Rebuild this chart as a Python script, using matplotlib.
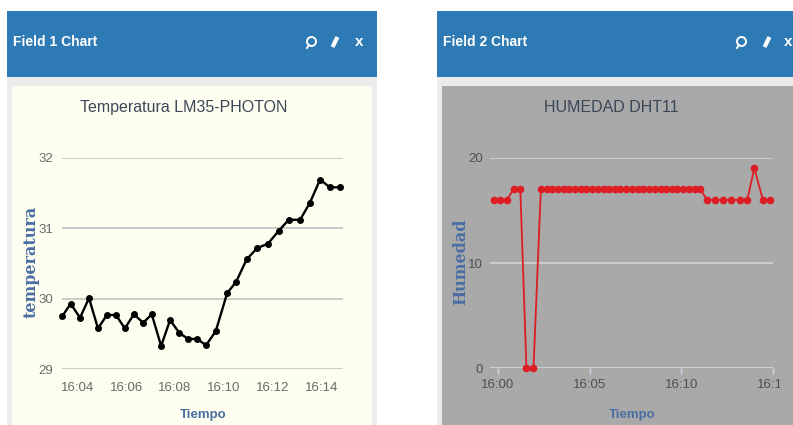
import matplotlib
matplotlib.use('Agg')
import matplotlib.pyplot as plt
import matplotlib.dates as mdates
import pandas as pd
from matplotlib.patches import Rectangle
from matplotlib.lines import Line2D
from matplotlib.transforms import Bbox, TransformedBbox

# Field 1: temperature samples (LM35 on Photon)
temp_times = ["16:03:23", "16:03:44", "16:04:07", "16:04:29", "16:04:51", "16:05:13",
              "16:05:35", "16:05:57", "16:06:19", "16:06:42", "16:07:03", "16:07:26",
              "16:07:48", "16:08:10", "16:08:32", "16:08:55", "16:09:16", "16:09:40",
              "16:10:08", "16:10:30", "16:10:56", "16:11:22", "16:11:48", "16:12:14",
              "16:12:39", "16:13:07", "16:13:31", "16:13:56", "16:14:20", "16:14:45"]
temperatura = [29.75, 29.93, 29.73, 30.01, 29.58, 29.77, 29.77, 29.58, 29.78, 29.66,
               29.78, 29.33, 29.70, 29.52, 29.43, 29.43, 29.34, 29.54, 30.08, 30.24,
               30.56, 30.72, 30.78, 30.96, 31.12, 31.12, 31.36, 31.69, 31.58, 31.58]

# Field 2: humidity samples (DHT11)
hum_times = ["15:59:47", "16:00:08", "16:00:30", "16:00:52", "16:01:14", "16:01:34",
             "16:01:57", "16:02:21", "16:02:40", "16:02:58", "16:03:17", "16:03:35",
             "16:03:54", "16:04:13", "16:04:31", "16:04:50", "16:05:08", "16:05:27",
             "16:05:46", "16:06:04", "16:06:23", "16:06:41", "16:07:00", "16:07:19",
             "16:07:37", "16:07:56", "16:08:14", "16:08:33", "16:08:52", "16:09:10",
             "16:09:29", "16:09:47", "16:10:06", "16:10:25", "16:10:43", "16:11:01",
             "16:11:24", "16:11:50", "16:12:15", "16:12:42", "16:13:10", "16:13:35",
             "16:13:58", "16:14:26", "16:14:49"]
humedad = [16, 16, 16, 17, 17, 0, 0,
           17, 17, 17, 17, 17, 17, 17, 17, 17, 17, 17, 17, 17, 17, 17, 17, 17, 17, 17,
           17, 17, 17, 17, 17, 17, 17, 17, 17, 17,
           16, 16, 16, 16, 16, 16, 19, 16, 16]

temp_ticks = [29, 30, 31, 32]
hum_ticks = [0, 10, 20]

W, H = 793, 425
SANS = ['Liberation Sans', 'DejaVu Sans']
HEADER = '#2e7ab5'
LABEL_BLUE = '#4a6ea3'


def fx(x):
    return x / W


def fy(y):
    return 1 - y / H


def tt(lst):
    return pd.to_datetime(['2016-05-10 ' + t for t in lst])


fig = plt.figure(figsize=(W / 100, H / 100), dpi=100)
fig.patch.set_facecolor('white')


def box(x0, y0, x1, y1, color):
    fig.patches.append(Rectangle((fx(x0), fy(y1)), fx(x1) - fx(x0), fy(y0) - fy(y1),
                                 transform=fig.transFigure, facecolor=color,
                                 edgecolor='none', zorder=-1))


def icons(xb, xp, xx, y=42):
    fig.add_artist(Line2D([fx(xb)], [fy(y - 1)], marker='o', markersize=6.5,
                          markerfacecolor='none', markeredgecolor='white',
                          markeredgewidth=1.4, transform=fig.transFigure))
    fig.add_artist(Line2D([fx(xb - 2), fx(xb - 4)], [fy(y + 3), fy(y + 6)], color='white',
                          lw=1.4, transform=fig.transFigure))
    fig.add_artist(Line2D([fx(xp - 2.5), fx(xp + 2.5)], [fy(y + 5), fy(y - 5)], color='white',
                          lw=3, solid_capstyle='butt', transform=fig.transFigure))
    fig.text(fx(xx), fy(y), 'x', color='white', fontweight='bold', fontsize=11,
             ha='center', va='center', family=SANS)


# panels
box(7, 11, 377, 77, HEADER)
box(7, 77, 377, 430, '#ececec')
box(12, 86, 372, 430, '#fefef0')
box(437, 11, 800, 77, HEADER)
box(437, 77, 800, 430, '#ececec')
box(442, 86, 800, 430, '#a9a9a9')

fig.text(fx(13), fy(42), 'Field 1 Chart', color='white', fontweight='bold', fontsize=10,
         family=SANS, ha='left', va='center')
fig.text(fx(443), fy(42), 'Field 2 Chart', color='white', fontweight='bold', fontsize=10,
         family=SANS, ha='left', va='center')
icons(311, 335, 359)
icons(741, 767, 788)

axL = fig.add_axes([fx(61.7), fy(369.3), fx(343.3) - fx(61.7), fy(157.7) - fy(369.3)])
axR = fig.add_axes([fx(490), fy(368.3), fx(773.3) - fx(490), fy(157.7) - fy(368.3)])

for ax in (axL, axR):
    ax.set_facecolor('none')
    for s in ax.spines.values():
        s.set_visible(False)
    ax.set_axisbelow(True)
    ax.xaxis.set_major_formatter(mdates.DateFormatter('%H:%M'))

# left chart: temperature
axL.plot(tt(temp_times), temperatura, color='black', lw=1.7, marker='o', ms=4, clip_on=False)
axL.set_ylim(29, 32)
axL.set_yticks(temp_ticks)
axL.set_xlim(tt(["16:03:22"])[0], tt(["16:14:53"])[0])
axL.xaxis.set_major_locator(mdates.MinuteLocator(byminute=range(0, 60, 2)))
axL.yaxis.grid(True, color='#c6c6c6', lw=1.3)
axL.tick_params(axis='both', length=0, colors='#6a6a6a', labelsize=9.5)
axL.tick_params(axis='y', pad=6)
axL.tick_params(axis='x', pad=9)
for lab in axL.get_xticklabels() + axL.get_yticklabels():
    lab.set_family(SANS)

# right chart: humidity
axR.plot(tt(hum_times), humedad, color='#dc1e24', lw=1.3, marker='o', ms=4.5, clip_on=False)
axR.set_ylim(0, 20)
axR.set_yticks(hum_ticks)
axR.set_xlim(tt(["15:59:35"])[0], tt(["16:15:00"])[0])
axR.xaxis.set_major_locator(mdates.MinuteLocator(byminute=range(0, 60, 5)))
axR.yaxis.grid(True, color='#cfcfcf', lw=1.3)
axR.axhline(0, color='#c8d4e2', lw=1.5, zorder=0.5)
axR.tick_params(axis='y', length=0, colors='#505050', labelsize=9.5, pad=5)
axR.tick_params(axis='x', length=4, width=1, color='#c8d4e2', labelcolor='#505050',
                labelsize=9.5, pad=4)
clip = TransformedBbox(Bbox([[0, 0], [fx(780), 1]]), fig.transFigure)
for lab in axR.get_xticklabels() + axR.get_yticklabels():
    lab.set_family(SANS)
    lab.set_clip_box(clip)
    lab.set_clip_on(True)

# titles and axis labels
fig.text(fx(183.5), fy(111.7), 'Temperatura LM35-PHOTON', color='#3c4858', fontsize=11.5,
         family=SANS, ha='center', va='baseline')
fig.text(fx(611.7), fy(111.7), 'HUMEDAD DHT11', color='#3a4756', fontsize=11.5,
         family=SANS, ha='center', va='baseline')
fig.text(fx(31.5), fy(261.7), 'temperatura', rotation=90, color=LABEL_BLUE,
         family='DejaVu Serif', fontweight='bold', fontsize=11.5, ha='center', va='center')
fig.text(fx(461), fy(262), 'Humedad', rotation=90, color=LABEL_BLUE,
         family='DejaVu Serif', fontweight='bold', fontsize=11.5, ha='center', va='center')
fig.text(fx(203.3), fy(415), 'Tiempo', color=LABEL_BLUE, fontweight='bold', fontsize=9.5,
         family=SANS, ha='center', va='center')
fig.text(fx(631.7), fy(415), 'Tiempo', color=LABEL_BLUE, fontweight='bold', fontsize=9.5,
         family=SANS, ha='center', va='center')

fig.savefig('out.png', dpi=100)
